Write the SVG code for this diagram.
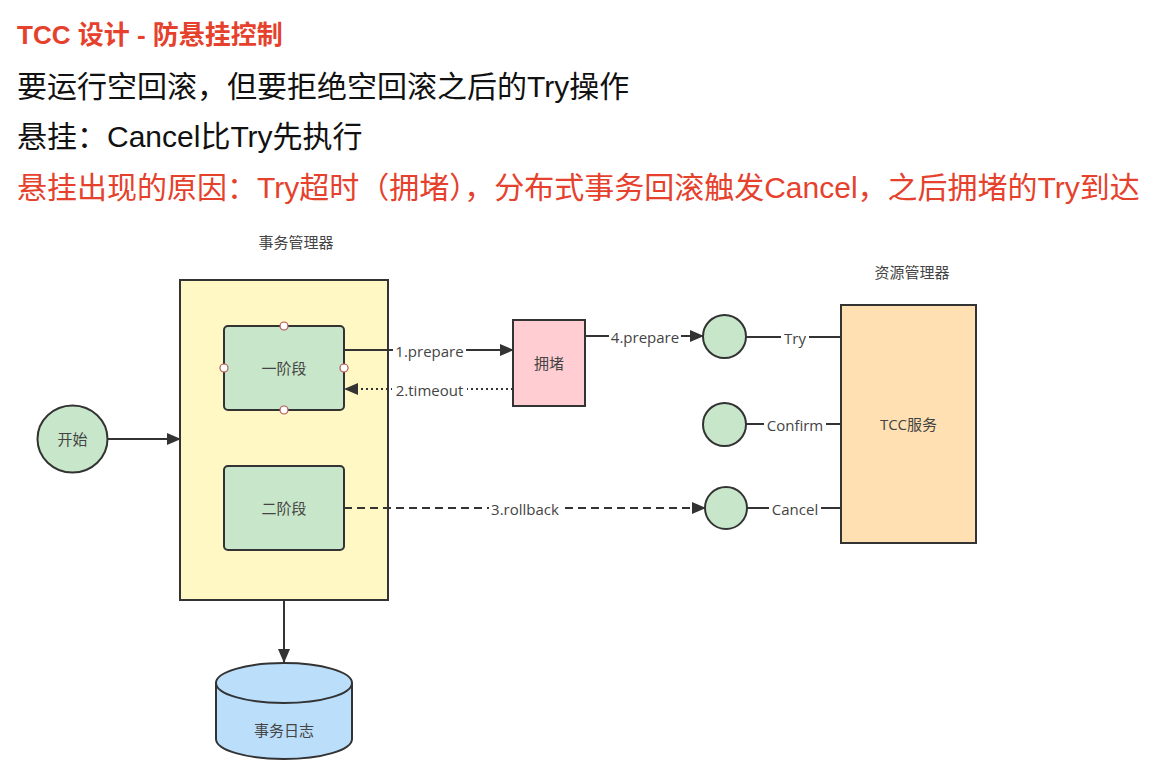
<svg xmlns="http://www.w3.org/2000/svg" width="1157" height="777" viewBox="0 0 1157 777">
<defs>
<style>
.h{font-family:"Liberation Sans","Noto Sans CJK SC",sans-serif;font-size:30px;fill:#111}
.red{fill:#E5412D}
.t{font-family:"Open Sans","Noto Sans CJK SC",sans-serif;font-size:15px;fill:#444;text-anchor:middle;dominant-baseline:central}
.n{stroke:#333;stroke-width:2}
.ln{stroke:#333;stroke-width:2;fill:none}
.lbl{fill:#fff}
.pt{fill:#fff;stroke:#B85450;stroke-width:1.2}
</style>
<marker id="ah" markerWidth="14" markerHeight="12" refX="13" refY="6" orient="auto" markerUnits="userSpaceOnUse">
<path d="M0,0 L14,6 L0,12 Z" fill="#333"/>
</marker>
</defs>
<rect width="1157" height="777" fill="#fff"/>

<g id="header">
<text x="17" y="44" class="h red" style="font-weight:bold;font-size:26px">TCC 设计 - 防悬挂控制</text>
<text x="17" y="97" class="h">要运行空回滚，但要拒绝空回滚之后的Try操作</text>
<text x="17" y="147" class="h">悬挂：Cancel比Try先执行</text>
<text x="17" y="198" class="h red">悬挂出现的原因：Try超时（拥堵），分布式事务回滚触发Cancel，之后拥堵的Try到达</text>
</g>

<g id="tm-label"><text x="296" y="242" class="t">事务管理器</text></g>
<g id="rm-label"><text x="912" y="272" class="t">资源管理器</text></g>

<g id="tx-manager"><rect x="180" y="280" width="208" height="320" fill="#FFF8C4" class="n"/></g>

<g id="phase1">
<rect x="224" y="326" width="120" height="84" rx="4" fill="#C8E6C9" class="n"/>
<text x="284" y="368" class="t">一阶段</text>
<circle cx="284" cy="326" r="4" class="pt"/>
<circle cx="224" cy="368" r="4" class="pt"/>
<circle cx="344" cy="368" r="4" class="pt"/>
<circle cx="284" cy="410" r="4" class="pt"/>
</g>

<g id="phase2">
<rect x="224" y="466" width="120" height="84" rx="4" fill="#C8E6C9" class="n"/>
<text x="284" y="508" class="t">二阶段</text>
</g>

<g id="start">
<ellipse cx="72.5" cy="439" rx="35" ry="33.5" fill="#C8E6C9" class="n"/>
<text x="72.5" y="439" class="t">开始</text>
</g>

<g id="txlog">
<path d="M216,683 L216,739 A68,20 0 0 0 352,739 L352,683" fill="#BBDEFB" class="n"/>
<ellipse cx="284" cy="683" rx="68" ry="20" fill="#BBDEFB" class="n"/>
<text x="284" y="730" class="t">事务日志</text>
</g>

<g id="congest">
<rect x="513" y="320" width="72" height="86" fill="#FFCDD2" class="n"/>
<text x="549" y="363" class="t">拥堵</text>
</g>

<g id="c-try"><circle cx="724.5" cy="336.5" r="21.5" fill="#C8E6C9" class="n"/></g>
<g id="c-confirm"><circle cx="724.5" cy="424.5" r="21.5" fill="#C8E6C9" class="n"/></g>
<g id="c-cancel"><circle cx="726" cy="508" r="21" fill="#C8E6C9" class="n"/></g>

<g id="tcc">
<rect x="841" y="305" width="135" height="238" fill="#FFE0B2" class="n"/>
<text x="908.5" y="424" class="t">TCC服务</text>
</g>

<g id="connectors">
<line x1="108" y1="439" x2="180" y2="439" class="ln" marker-end="url(#ah)"/>
<line x1="284" y1="600" x2="284" y2="662" class="ln" marker-end="url(#ah)"/>
<line x1="344" y1="350" x2="513" y2="350" class="ln" marker-end="url(#ah)"/>
<rect x="393" y="341" width="73" height="18" class="lbl"/>
<text x="429.5" y="351" class="t">1.prepare</text>
<line x1="513" y1="389" x2="345" y2="389" class="ln" stroke-dasharray="2,3" marker-end="url(#ah)"/>
<rect x="392" y="380" width="75" height="18" class="lbl"/>
<text x="429.5" y="390" class="t">2.timeout</text>
<line x1="585" y1="336" x2="703" y2="336" class="ln" marker-end="url(#ah)"/>
<rect x="609" y="327" width="72" height="18" class="lbl"/>
<text x="645" y="337" class="t">4.prepare</text>
<line x1="344" y1="508" x2="705" y2="508" class="ln" stroke-dasharray="8,5" marker-end="url(#ah)"/>
<rect x="489" y="499" width="72" height="18" class="lbl"/>
<text x="525" y="509" class="t">3.rollback</text>
<line x1="746" y1="337" x2="841" y2="337" class="ln"/>
<rect x="781" y="328" width="28" height="18" class="lbl"/>
<text x="795" y="338" class="t">Try</text>
<line x1="746" y1="424" x2="841" y2="424" class="ln"/>
<rect x="764" y="415" width="62" height="18" class="lbl"/>
<text x="795" y="425" class="t">Confirm</text>
<line x1="747" y1="508" x2="841" y2="508" class="ln"/>
<rect x="769" y="499" width="52" height="18" class="lbl"/>
<text x="795" y="509" class="t">Cancel</text>
</g>
</svg>
